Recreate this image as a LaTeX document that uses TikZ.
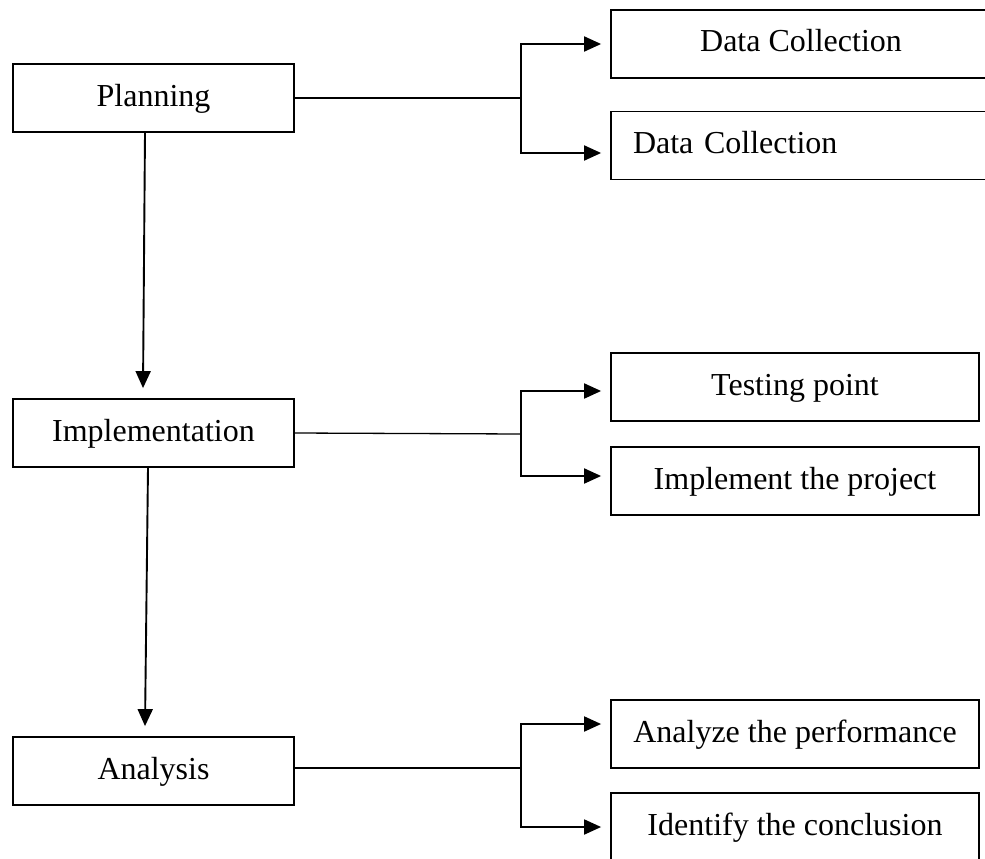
\documentclass[tikz,border=0pt]{standalone}
\usepackage{fontspec}
\setmainfont{Liberation Serif}
\usetikzlibrary{arrows.meta}
\begin{document}
\begin{tikzpicture}[x=1pt,y=-1pt,
  box/.style={draw,line width=1.8pt,minimum height=68pt,inner sep=0pt,
    font=\fontsize{32}{38}\selectfont,text height=22pt,text depth=6pt},
  leftbox/.style={box,minimum width=281pt},
  rightbox/.style={box,minimum width=368pt},
  topbox/.style={box,minimum width=380pt},
  link/.style={line width=1.3pt},
  arr/.style={line width=1.9pt,-{Triangle[length=17pt,width=15pt]}}]
\useasboundingbox (0,0) rectangle (985,859);
\clip (0,0) rectangle (985,859);
% left column
\node[leftbox] (plan) at (153.5,98) {Planning};
\node[leftbox] (impl) at (153.5,433) {Implementation};
\node[leftbox] (anal) at (153.5,771) {Analysis};
% right column
\node[topbox] (dc1) at (801,44) {Data Collection};
\node[topbox,text width=336pt,align=left] (dc2) at (801,145.5) {Data Collection};
\node[rightbox] (test) at (795,387) {Testing point};
\node[rightbox] (implp) at (795,481) {Implement the project};
\node[rightbox] (anap) at (795,734) {Analyze the performance};
\node[rightbox] (ident) at (795,827) {Identify the conclusion};
% split points
\coordinate (s1) at (521,98);
\coordinate (s2) at (521,434);
\coordinate (s3) at (521,768);
% connectors
\draw[link] (plan.east) -- (s1);
\draw[arr,shorten >=9pt] (s1) |- (dc1.west);
\draw[arr,shorten >=9pt] (s1) |- ([yshift=-7.5pt]dc2.west);
\draw[link] (impl.east) -- (s2);
\draw[arr,shorten >=9pt] (s2) |- ([yshift=-4pt]test.west);
\draw[arr,shorten >=9pt] (s2) |- ([yshift=5pt]implp.west);
\draw[link] ([yshift=3pt]anal.east) -- (s3);
\draw[arr,shorten >=9pt] (s3) |- ([yshift=10pt]anap.west);
\draw[arr,shorten >=9pt] (s3) |- (ident.west);
% vertical arrows
\draw[arr] ([xshift=-8.5pt]plan.south) -- ([xshift=-10.5pt,yshift=10pt]impl.north);
\draw[arr] ([xshift=-5.5pt]impl.south) -- ([xshift=-8.5pt,yshift=10pt]anal.north);
\end{tikzpicture}
\end{document}
